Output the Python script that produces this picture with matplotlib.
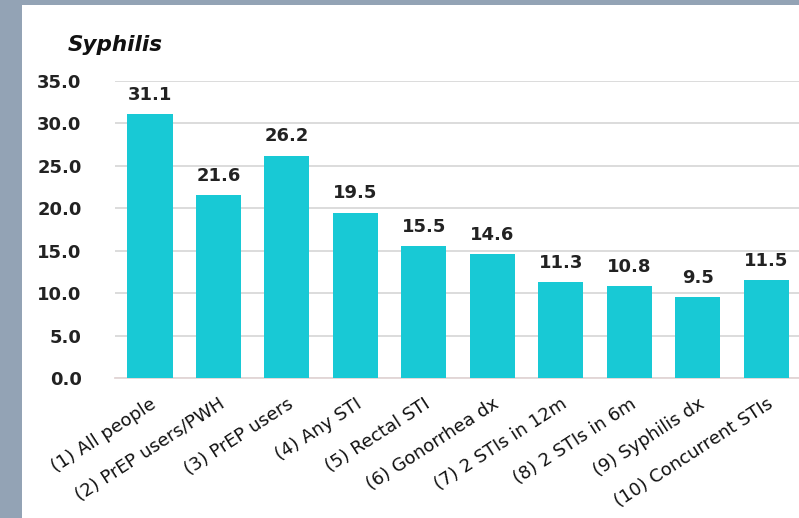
import matplotlib
matplotlib.use("Agg")
import matplotlib.pyplot as plt
from matplotlib.patches import Rectangle

categories = ["(1) All people", "(2) PrEP users/PWH", "(3) PrEP users", "(4) Any STI",
              "(5) Rectal STI", "(6) Gonorrhea dx", "(7) 2 STIs in 12m", "(8) 2 STIs in 6m",
              "(9) Syphilis dx", "(10) Concurrent STIs"]
values = [31.1, 21.6, 26.2, 19.5, 15.5, 14.6, 11.3, 10.8, 9.5, 11.5]
yticks = [0, 5, 10, 15, 20, 25, 30, 35]
title = "Syphilis"

plt.rcParams['font.family'] = ['DejaVu Sans']

fig = plt.figure(figsize=(7.99, 5.18), dpi=100)
fig.patch.set_facecolor("#93a3b5")
fig.patches.append(Rectangle((22 / 799, 0), 1 - 22 / 799, 1 - 5 / 518,
                             transform=fig.transFigure, facecolor="white",
                             edgecolor="none", zorder=-10))

ax = fig.add_axes([115 / 799, 140 / 518, 1 - 115 / 799, 297 / 518])
ax.set_zorder(5)
ax.set_facecolor("white")
x = list(range(len(categories)))
bars = ax.bar(x, values, width=0.66, color="#18c9d5", zorder=3)
for xi, v in zip(x, values):
    ax.text(xi, v + 1.2, f"{v:.1f}", ha="center", va="bottom", fontsize=13,
            fontweight="semibold", color="#222222")

ax.set_ylim(0, 35)
ax.set_xlim(-0.51, 9.48)
ax.set_yticks(yticks)
ax.set_yticklabels([f"{t:.1f}" for t in yticks], fontsize=13, fontweight="semibold", color="#222222")
ax.tick_params(axis="y", length=0, pad=24)
ax.tick_params(axis="x", length=0, pad=12)
ax.set_xticks(x)
ax.set_xticklabels(categories, rotation=33, ha="right", rotation_mode="anchor",
                   fontsize=13, color="#111111")
ax.grid(axis="y", color="#d9d9d9", linewidth=1.3, zorder=0)
for s in ["top", "right", "left"]:
    ax.spines[s].set_visible(False)
ax.spines["bottom"].set_color("#e2d6d6")
ax.spines["bottom"].set_linewidth(1.3)

fig.text(68 / 799, 1 - 45 / 518, title, fontsize=15.5, fontweight="heavy", style="italic",
         color="#111111", ha="left", va="center")

fig.savefig("out.png", dpi=100, facecolor=fig.get_facecolor())
